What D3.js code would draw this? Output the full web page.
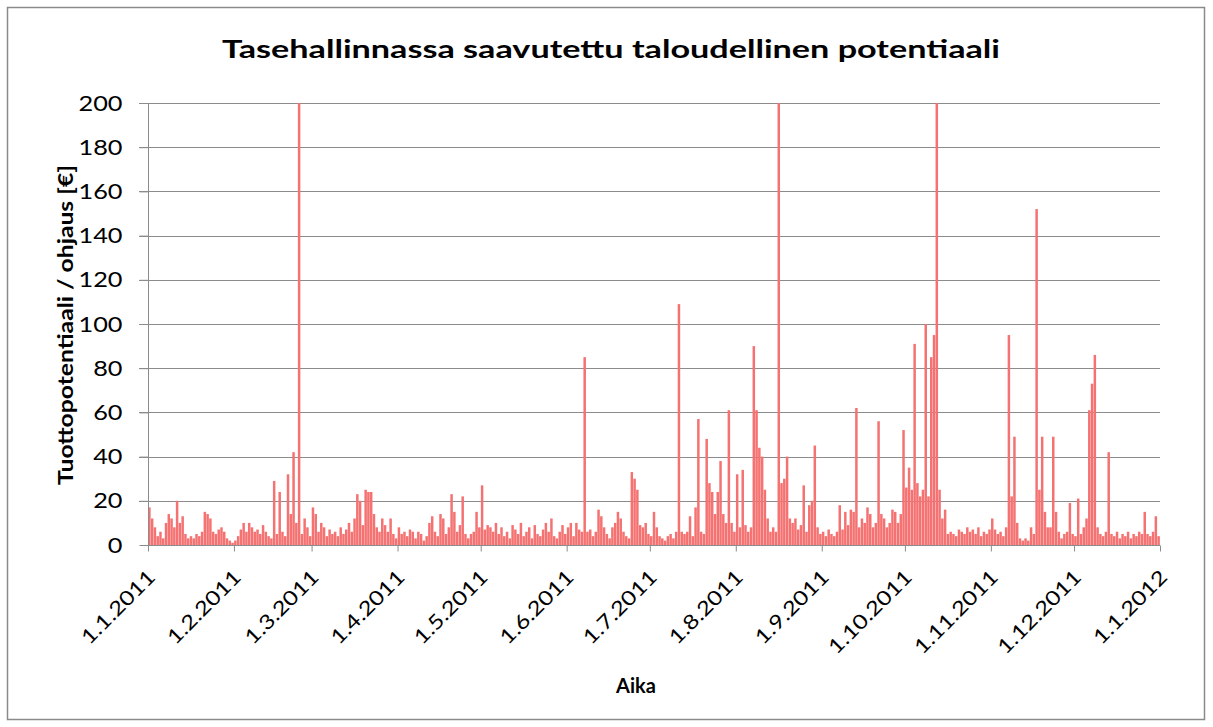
<!DOCTYPE html>
<html>
<head>
<meta charset="utf-8">
<style>
  body { margin: 0; background: #fff; }
  text { font-family: Lato, "Open Sans", sans-serif; fill: #000; }
  .grid line { stroke: #8c8c8c; stroke-width: 1; }
  .axis path, .axis line { stroke: #8c8c8c; }
</style>
<script src="https://d3js.org/d3.v7.min.js"></script>
</head>
<body>
<script>
// daily values, one array per month of 2011
var jan = [17, 12, 8, 4, 6, 3, 10, 14, 12, 8, 20, 10, 13, 5, 3, 4, 3, 5, 4, 6, 15, 14, 12, 6, 5, 7, 8, 6, 3, 2, 1];
var feb = [2, 4, 7, 10, 6, 10, 8, 6, 7, 5, 9, 6, 4, 3, 29, 5, 24, 6, 4, 32, 14, 42, 10, 200, 5, 12, 8, 4];
var mar = [17, 14, 6, 10, 8, 4, 7, 5, 6, 4, 8, 5, 7, 10, 6, 12, 23, 20, 9, 25, 24, 24, 14, 8, 6, 12, 9, 6, 12, 5, 3];
var apr = [8, 5, 6, 4, 7, 6, 3, 6, 5, 2, 4, 10, 13, 6, 4, 14, 12, 5, 8, 23, 15, 6, 9, 22, 5, 3, 5, 6, 15, 8];
var may = [27, 7, 9, 8, 6, 10, 5, 8, 4, 6, 3, 9, 7, 5, 10, 4, 6, 8, 3, 9, 5, 4, 7, 10, 6, 12, 4, 3, 6, 9, 5];
var jun = [8, 10, 4, 10, 7, 6, 85, 6, 7, 4, 6, 16, 13, 8, 5, 3, 8, 10, 15, 12, 6, 4, 3, 33, 30, 25, 9, 8, 10, 5];
var jul = [4, 15, 8, 4, 3, 2, 4, 5, 3, 6, 109, 6, 5, 6, 13, 4, 17, 57, 6, 5, 48, 28, 24, 14, 24, 38, 14, 10, 61, 10, 6];
var aug = [32, 8, 34, 9, 6, 8, 90, 61, 44, 40, 25, 12, 6, 8, 6, 200, 28, 30, 40, 12, 10, 12, 7, 9, 27, 6, 18, 20, 45, 8, 5];
var sep = [6, 4, 7, 5, 4, 6, 18, 7, 15, 9, 16, 15, 62, 8, 12, 10, 17, 14, 8, 10, 56, 14, 12, 8, 10, 16, 15, 10, 14, 52];
var oct = [26, 35, 25, 91, 28, 22, 25, 100, 22, 85, 95, 200, 25, 12, 16, 5, 6, 5, 4, 7, 6, 5, 8, 6, 7, 5, 8, 4, 6, 5, 7];
var nov = [12, 7, 5, 6, 4, 8, 95, 22, 49, 10, 3, 2, 3, 2, 8, 5, 152, 25, 49, 15, 8, 8, 49, 15, 6, 3, 5, 6, 19, 5];
var dec = [4, 21, 5, 8, 12, 61, 73, 86, 8, 5, 4, 6, 42, 5, 4, 6, 3, 5, 4, 6, 3, 5, 4, 6, 5, 15, 5, 4, 6, 13, 4];

var yTicks = [0, 20, 40, 60, 80, 100, 120, 140, 160, 180, 200];
var titleText = 'Tasehallinnassa saavutettu taloudellinen potentiaali';
var yTitle = 'Tuottopotentiaali / ohjaus [€]';
var xTitle = 'Aika';

var values = [].concat(jan, feb, mar, apr, may, jun, jul, aug, sep, oct, nov, dec);
var start = new Date(2011, 0, 1);
var end = new Date(2012, 0, 1);
var data = values.map(function(v, i) {
  return { date: d3.timeDay.offset(start, i), value: v };
});

var W = 1213, H = 727;
var pLeft = 148, pRight = 1160, pTop = 103, pBottom = 545;

var svg = d3.select('body').append('svg')
  .attr('width', W).attr('height', H);

// outer chart frame
svg.append('rect')
  .attr('x', 7.5).attr('y', 7.5)
  .attr('width', 1197).attr('height', 712)
  .attr('fill', '#fff').attr('stroke', '#8a8a8a').attr('stroke-width', 1.5);

var x = d3.scaleTime()
  .domain([start, end])
  .range([pLeft, pRight]);
var y = d3.scaleLinear()
  .domain([0, 200])
  .range([pBottom, pTop]);

// gridlines
svg.append('g').attr('class', 'grid')
  .selectAll('line')
  .data(yTicks.filter(function(d) { return d > 0; }))
  .enter().append('line')
  .attr('x1', pLeft - 9).attr('x2', pRight)
  .attr('y1', function(d) { return Math.round(y(d)) + 0.5; })
  .attr('y2', function(d) { return Math.round(y(d)) + 0.5; });

// bars
var dayW = x(d3.timeDay.offset(start, 1)) - x(start);
svg.append('g')
  .selectAll('rect')
  .data(data)
  .enter().append('rect')
  .attr('x', function(d) { return x(d.date) + dayW * 0.05; })
  .attr('width', dayW * 0.9)
  .attr('y', function(d) { return y(d.value); })
  .attr('height', function(d) { return pBottom - y(d.value); })
  .attr('fill', '#f57272');

// y axis
var yAxis = d3.axisLeft(y).tickValues(yTicks).tickSize(9).tickPadding(8);
var gy = svg.append('g').attr('class', 'axis')
  .attr('transform', 'translate(' + (pLeft + 0.5) + ',0)')
  .call(yAxis);
gy.select('.domain').attr('d', 'M0,' + pTop + 'V' + pBottom);
gy.selectAll('text')
  .style('font-size', '22px')
  .attr('fill', '#000')
  .attr('x', 0)
  .attr('transform', 'translate(-26,0) scale(1.15,1)');

// x axis
var months = d3.timeMonth.range(start, d3.timeDay.offset(end, 1));
var xAxis = d3.axisBottom(x).tickValues(months)
  .tickFormat(d3.timeFormat('%-d.%-m.%Y')).tickSize(6);
var gx = svg.append('g').attr('class', 'axis')
  .attr('transform', 'translate(0,' + (pBottom + 0.5) + ')')
  .call(xAxis);
gx.select('.domain').attr('d', 'M' + pLeft + ',0H' + pRight);
gx.selectAll('text')
  .style('font-size', '20px')
  .attr('fill', '#000')
  .attr('text-anchor', 'end')
  .attr('dy', null)
  .attr('y', 0)
  .attr('transform', 'translate(8,33) rotate(-45) scale(1.2,1)');

// titles
svg.append('text')
  .attr('x', 611).attr('y', 58)
  .attr('text-anchor', 'middle')
  .attr('textLength', 778).attr('lengthAdjust', 'spacingAndGlyphs')
  .style('font-size', '25px').style('font-weight', 'bold')
  .text(titleText);

svg.append('text')
  .attr('transform', 'translate(73,325) rotate(-90)')
  .attr('text-anchor', 'middle')
  .attr('textLength', 320).attr('lengthAdjust', 'spacingAndGlyphs')
  .style('font-size', '21px').style('font-weight', 'bold')
  .text(yTitle);

svg.append('text')
  .attr('x', 636).attr('y', 693)
  .attr('text-anchor', 'middle')
  .style('font-size', '20px').style('font-weight', 'bold')
  .text(xTitle);
</script>
</body>
</html>
